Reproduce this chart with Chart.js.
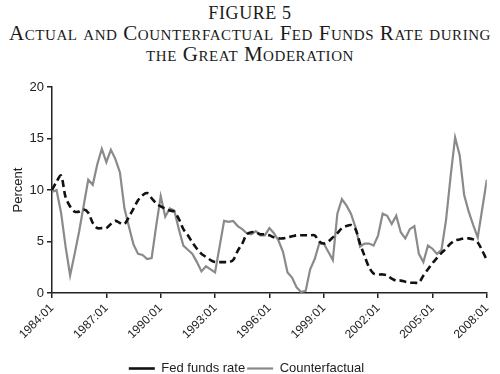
<!DOCTYPE html>
<html>
<head>
<meta charset="utf-8">
<script src="https://cdn.jsdelivr.net/npm/chart.js@4.4.1/dist/chart.umd.min.js"></script>
<style>
  html, body { margin: 0; padding: 0; background: #fff; }
  body { width: 500px; height: 374px; overflow: hidden; }
  #title {
    height: 72px;
    text-align: center;
    font-family: "Liberation Serif", "DejaVu Serif", serif;
    color: #1a1a1a;
  }
  #title .fig { font-size: 18px; line-height: 20px; padding-top: 3px; letter-spacing: 0.6px; }
  #title .sub { font-size: 21px; line-height: 21px; font-variant: small-caps; letter-spacing: 0.55px; }
  #wrap { width: 500px; height: 302px; position: relative; }
</style>
</head>
<body>
<div id="title">
  <div class="fig">FIGURE 5</div>
  <div class="sub">Actual and Counterfactual Fed Funds Rate during<br>the Great Moderation</div>
</div>
<div id="wrap"><canvas id="chart"></canvas></div>
<script>
// quarterly observations, 1984:01 .. 2008:01
const tickLabels = ["1984:01", "1987:01", "1990:01", "1993:01", "1996:01",
                    "1999:01", "2002:01", "2005:01", "2008:01"];

// Fed funds rate (dashed)
const fedFunds = [
  10.0, 10.8, 11.4, 9.3, 8.4, 7.9, 7.9, 8.1, 7.8, 6.8, 6.3, 6.3,
  6.3, 6.7, 7.0, 6.8, 6.7, 7.4, 8.2, 9.0, 9.5, 9.7, 9.2, 8.7,
  8.4, 8.2, 8.0, 7.9, 7.2, 6.2, 5.6, 4.9, 4.3, 3.8, 3.5, 3.2,
  3.0, 3.0, 3.0, 3.0, 3.2, 4.1, 4.8, 5.7, 5.9, 5.9, 5.7, 5.7,
  5.6, 5.4, 5.3, 5.3, 5.4, 5.5, 5.6, 5.6, 5.6, 5.6, 5.6, 5.0,
  4.8, 5.0, 5.4, 5.8, 6.3, 6.5, 6.6, 6.2, 4.8, 3.6, 2.5, 1.9,
  1.8, 1.8, 1.7, 1.4, 1.2, 1.2, 1.1, 1.0, 1.0, 1.0, 1.7, 2.3,
  2.9, 3.4, 3.9, 4.3, 4.8, 5.1, 5.2, 5.3, 5.3, 5.2, 4.9, 4.1,
  3.2
];

// Counterfactual (grey)
const counterfactual = [
  9.8, 10.0, 7.8, 4.5, 1.7, 3.8, 6.0, 8.5, 11.0, 10.5, 12.5, 14.0,
  12.7, 13.9, 13.0, 11.7, 8.2, 6.4, 4.7, 3.8, 3.7, 3.3, 3.4, 6.5,
  9.4, 7.4, 8.2, 8.0, 6.2, 4.6, 4.2, 3.8, 3.0, 2.1, 2.6, 2.3,
  2.0, 4.5, 7.0, 6.9, 7.0, 6.5, 6.2, 5.8, 5.7, 6.0, 5.6, 5.6,
  6.3, 5.8, 5.1, 4.0, 2.0, 1.5, 0.55, 0.1, 0.2, 2.3, 3.3, 4.8,
  4.8, 4.0, 3.2, 7.7, 9.1, 8.5, 7.7, 6.4, 4.5, 4.8, 4.8, 4.6,
  5.6, 7.7, 7.5, 6.7, 7.5, 5.9, 5.3, 6.2, 6.5, 3.8, 3.0, 4.6,
  4.3, 3.8, 4.2, 7.1, 11.3, 15.1, 13.4, 9.5, 7.9, 6.6, 5.4, 8.2,
  11.0
];

const toPoints = (arr) => arr.map((v, i) => ({ x: i, y: v }));

const sans = "'Liberation Sans', Arial, sans-serif";

new Chart(document.getElementById("chart"), {
  type: "line",
  data: {
    datasets: [
      {
        label: "Fed funds rate",
        data: toPoints(fedFunds),
        borderColor: "#111",
        borderWidth: 2.6,
        borderDash: [7, 4],
        pointRadius: 0,
        pointStyle: "line",
        tension: 0.3,
        fill: false
      },
      {
        label: "Counterfactual",
        data: toPoints(counterfactual),
        borderColor: "#8a8a8a",
        borderWidth: 2.2,
        pointRadius: 0,
        pointStyle: "line",
        tension: 0,
        fill: false
      }
    ]
  },
  options: {
    responsive: true,
    maintainAspectRatio: false,
    animation: false,
    // legend sits low, close to the bottom edge
    layout: { padding: { top: 15, right: 7, left: 0, bottom: -11 } },
    plugins: {
      legend: {
        position: "bottom",
        labels: {
          usePointStyle: true,
          pointStyleWidth: 26,
          boxWidth: 26,
          padding: 2,
          color: "#222",
          font: { family: sans, size: 13 }
        }
      },
      tooltip: { enabled: false }
    },
    scales: {
      x: {
        type: "linear",
        min: 0,
        max: 96,
        afterFit: (s) => { s.height = 67; },
        border: { color: "#222", width: 1.5 },
        grid: { drawOnChartArea: false, color: "#222", tickLength: 5, lineWidth: 1.5 },
        ticks: {
          stepSize: 12,
          autoSkip: false,
          maxRotation: 45,
          minRotation: 45,
          color: "#222",
          font: { family: sans, size: 12 },
          callback: (v) => tickLabels[v / 12]
        }
      },
      y: {
        min: 0,
        max: 20,
        afterFit: (s) => { s.width = 52; },
        border: { color: "#222", width: 1.5 },
        grid: { drawOnChartArea: false, color: "#222", tickLength: 5, lineWidth: 1.5 },
        ticks: { stepSize: 5, color: "#222", padding: 3, font: { family: sans, size: 13 } },
        title: {
          display: true,
          text: "Percent",
          color: "#222",
          font: { family: sans, size: 13 },
          padding: { top: 11, bottom: 0 }
        }
      }
    }
  }
});
</script>
</body>
</html>
